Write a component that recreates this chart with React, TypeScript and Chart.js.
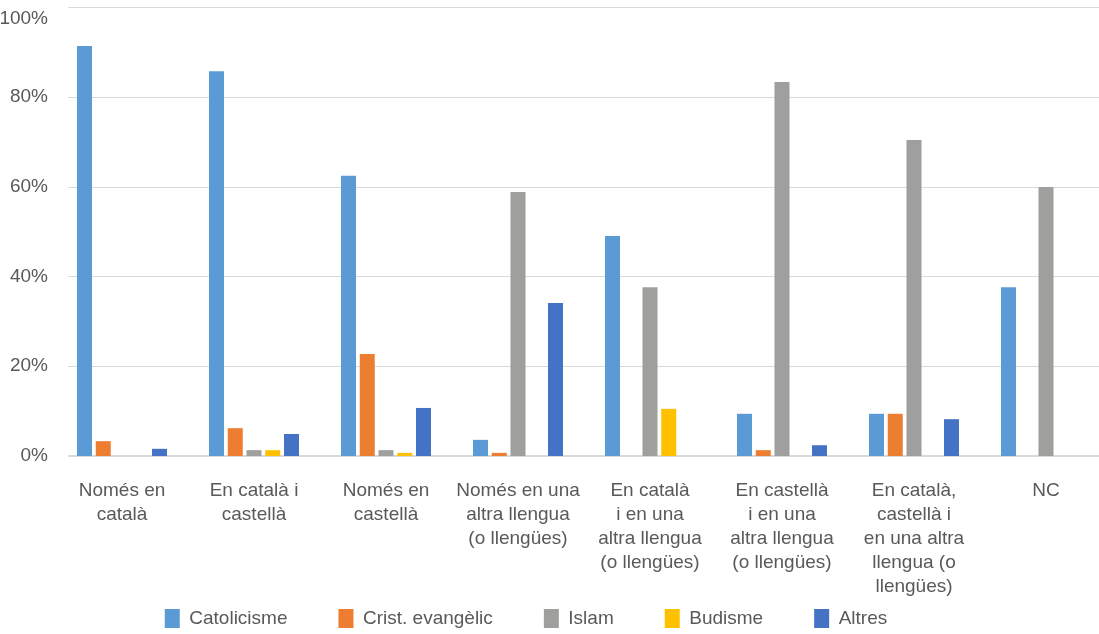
import React, { useEffect, useRef } from 'react';
import { Chart, registerables } from 'chart.js';

Chart.register(...registerables);

// ---- data ----
const categories: string[][] = [
  ['Només en', 'català'],
  ['En català i', 'castellà'],
  ['Només en', 'castellà'],
  ['Només en una', 'altra llengua', '(o llengües)'],
  ['En català', 'i en una', 'altra llengua', '(o llengües)'],
  ['En castellà', 'i en una', 'altra llengua', '(o llengües)'],
  ['En català,', 'castellà i', 'en una altra', 'llengua (o', 'llengües)'],
  ['NC'],
];
const seriesNames = ['Catolicisme', 'Crist. evangèlic', 'Islam', 'Budisme', 'Altres'];
const catolicisme = [91.3, 85.7, 62.4, 3.6, 49.0, 9.4, 9.4, 37.6];
const cristEvangelic = [3.3, 6.2, 22.7, 0.7, 0, 1.3, 9.4, 0];
const islam = [0, 1.3, 1.3, 58.8, 37.6, 83.3, 70.4, 59.9];
const budisme = [0, 1.3, 0.7, 0, 10.5, 0, 0, 0];
const altres = [1.6, 4.9, 10.7, 34.1, 0, 2.4, 8.2, 0];
const yTickValues = [0, 20, 40, 60, 80, 100];

const seriesValues = [catolicisme, cristEvangelic, islam, budisme, altres];
const seriesColors = ['#5B9BD5', '#ED7D31', '#9F9F9D', '#FFC000', '#4472C4'];

// ---- layout constants ----
const CANVAS_W = 1182;
const CANVAS_H = 678;
const OFFSET_X = -70; // canvas position on page
const GRID_LEFT_PAGE = 68;
const LEGEND_SHIFT = -40;
const TEXT = '#595959';
const FONT = "'Liberation Sans', Arial, Helvetica, sans-serif";

const gridPlugin = {
  id: 'customGrid',
  afterLayout(chart: any) {
    if (chart.legend) {
      chart.legend.top += LEGEND_SHIFT;
      chart.legend.bottom += LEGEND_SHIFT;
    }
  },
  beforeDatasetsDraw(chart: any) {
    const y = chart.scales.y;
    const ctx = chart.ctx;
    const x0 = GRID_LEFT_PAGE - OFFSET_X;
    const x1 = chart.width;
    ctx.save();
    ctx.strokeStyle = '#D9D9D9';
    y.ticks.forEach((t: any) => {
      const py = Math.round(y.getPixelForValue(t.value));
      ctx.beginPath();
      if (t.value === 0) {
        ctx.lineWidth = 2;
        ctx.moveTo(x0, py);
        ctx.lineTo(x1, py);
      } else {
        ctx.lineWidth = 1;
        ctx.moveTo(x0, py + 0.5);
        ctx.lineTo(x1, py + 0.5);
      }
      ctx.stroke();
    });
    ctx.restore();
  },
};

export default function App() {
  const ref = useRef<HTMLCanvasElement | null>(null);

  useEffect(() => {
    if (!ref.current) return;
    const chart = new Chart(ref.current, {
      type: 'bar',
      data: {
        labels: categories as any,
        datasets: seriesNames.map((name, i) => ({
          label: name,
          data: seriesValues[i],
          backgroundColor: seriesColors[i],
          borderWidth: 0,
          categoryPercentage: 0.71,
          barPercentage: 0.8,
        })),
      },
      options: {
        animation: false,
        responsive: false,
        devicePixelRatio: 1,
        events: [],
        layout: { padding: { top: 7, left: 10, right: 0, bottom: 0 } },
        font: { family: FONT },
        plugins: {
          tooltip: { enabled: false },
          legend: {
            position: 'bottom',
            align: 'center',
            labels: {
              boxWidth: 15,
              boxHeight: 19,
              padding: 51,
              color: TEXT,
              font: { family: FONT, size: 19 },
            },
          },
        },
        scales: {
          x: {
            offset: true,
            grid: { display: false },
            border: { display: false },
            ticks: {
              autoSkip: false,
              maxRotation: 0,
              minRotation: 0,
              padding: 15,
              color: TEXT,
              font: { family: FONT, size: 19, lineHeight: 1.263 },
            },
            afterFit: (s: any) => {
              s.height = 142;
              s.paddingLeft = 0;
              s.paddingRight = 0;
            },
          },
          y: {
            min: 0,
            max: 100,
            grid: { display: false },
            border: { display: false },
            afterBuildTicks: (s: any) => {
              s.ticks = yTickValues.map((v) => ({ value: v }));
            },
            ticks: {
              padding: 0,
              color: TEXT,
              font: { family: FONT, size: 19, lineHeight: 1.2 },
              callback: (v: any) => (v === 100 ? ['', v + '%'] : v + '%'),
            },
            afterFit: (s: any) => {
              s.width = 116;
              s.paddingTop = 0;
              s.paddingBottom = 0;
            },
          },
        },
      },
      plugins: [gridPlugin],
    });
    return () => chart.destroy();
  }, []);

  return (
    <div
      style={{
        position: 'fixed',
        left: 0,
        top: 0,
        width: 1099,
        height: 634,
        overflow: 'hidden',
        background: '#fff',
      }}
    >
      <canvas
        ref={ref}
        width={CANVAS_W}
        height={CANVAS_H}
        style={{ position: 'absolute', left: OFFSET_X, top: 0, width: CANVAS_W, height: CANVAS_H }}
      />
    </div>
  );
}
